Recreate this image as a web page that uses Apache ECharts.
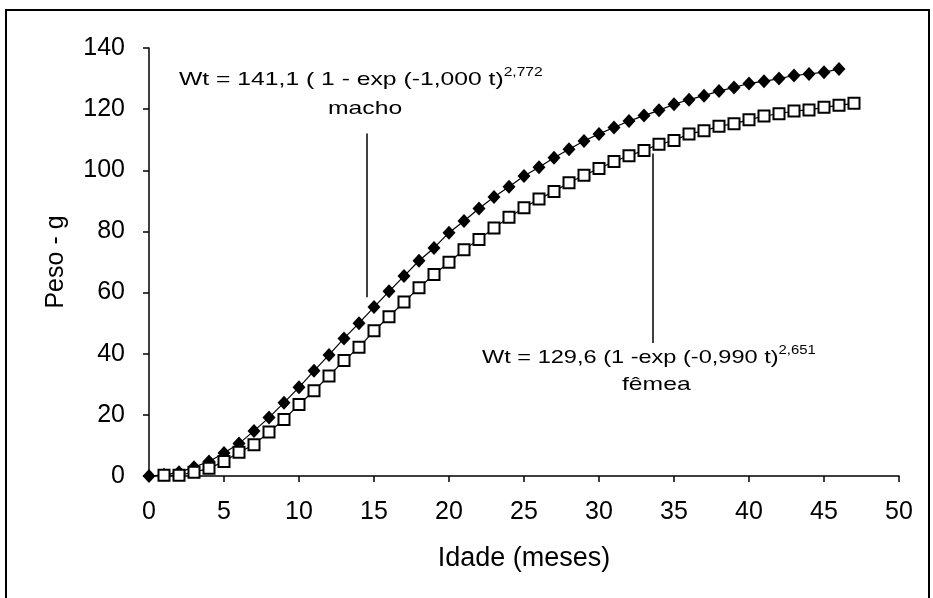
<!DOCTYPE html>
<html>
<head>
<meta charset="utf-8">
<script src="https://cdn.jsdelivr.net/npm/echarts@6/dist/echarts.min.js"></script>
<style>
  html, body { margin: 0; padding: 0; background: #fff; }
  #app { width: 933px; height: 598px; }
</style>
</head>
<body>
<div id="app"></div>
<script>
// idade em meses
var idadeMacho = [0, 1, 2, 3, 4, 5, 6, 7, 8, 9, 10, 11, 12, 13, 14, 15, 16, 17, 18, 19,
  20, 21, 22, 23, 24, 25, 26, 27, 28, 29, 30, 31, 32, 33, 34, 35, 36, 37, 38, 39,
  40, 41, 42, 43, 44, 45, 46];
var pesoMacho = [0, 0.4, 1.2, 2.9, 4.75, 7.5, 10.6, 14.75, 19.1, 24, 29, 34.4, 39.6, 45, 50,
  55.25, 60.4, 65.4, 70.4, 74.6, 79.6, 83.4, 87.5, 91.25, 94.6, 98.1, 101, 104.1, 106.9,
  109.6, 111.9, 114, 116.1, 117.9, 119.6, 121.6, 123.1, 124.4, 125.9, 127.1, 128.4, 129.1,
  130, 131, 131.5, 132.1, 133.1];

var idadeFemea = [1, 2, 3, 4, 5, 6, 7, 8, 9, 10, 11, 12, 13, 14, 15, 16, 17, 18, 19, 20,
  21, 22, 23, 24, 25, 26, 27, 28, 29, 30, 31, 32, 33, 34, 35, 36, 37, 38, 39, 40,
  41, 42, 43, 44, 45, 46, 47];
var pesoFemea = [0.25, 0.25, 1.25, 2.5, 4.75, 7.75, 10.25, 14.4, 18.5, 23.4, 27.9, 32.75,
  37.75, 42.1, 47.5, 52.1, 56.9, 61.6, 65.9, 69.9, 74, 77.4, 81.1, 84.6, 87.75, 90.6, 93.1,
  95.9, 98.4, 100.6, 102.9, 104.75, 106.5, 108.5, 109.75, 111.9, 112.9, 114.4, 115.25,
  116.5, 117.75, 118.5, 119.4, 119.75, 120.6, 121.25, 121.9];

// linhas indicadoras das equações [idade, peso topo, peso base]
var setaMacho = [14.5, 112, 58.5];
var setaFemea = [33.6, 105.5, 43.5];

function pares(xs, ys) {
  return xs.map(function (x, i) { return [x, ys[i]]; });
}

var fonte = "Liberation Sans, Arial, sans-serif";

var chart = echarts.init(document.getElementById("app"));

chart.setOption({
  backgroundColor: "#fff",
  animation: false,
  textStyle: { fontFamily: fonte, color: "#000" },
  grid: { left: 149, right: 34, top: 48, bottom: 122 },
  xAxis: {
    type: "value",
    min: 0,
    max: 50,
    interval: 5,
    name: "Idade (meses)",
    nameLocation: "middle",
    nameGap: 69,
    nameTextStyle: { fontSize: 27, color: "#000", fontFamily: fonte },
    axisLine: { lineStyle: { color: "#000", width: 1.5 } },
    axisTick: { length: 6, lineStyle: { color: "#000", width: 1.5 } },
    axisLabel: { fontSize: 25, color: "#000", margin: 24, fontFamily: fonte },
    splitLine: { show: false }
  },
  yAxis: {
    type: "value",
    min: 0,
    max: 140,
    interval: 20,
    name: "Peso - g",
    nameLocation: "middle",
    nameGap: 80,
    nameTextStyle: { fontSize: 25, color: "#000", fontFamily: fonte },
    axisLine: { show: true, lineStyle: { color: "#000", width: 1.5 } },
    axisTick: { show: true, length: 6, lineStyle: { color: "#000", width: 1.5 } },
    axisLabel: { fontSize: 25, color: "#000", margin: 24, fontFamily: fonte },
    splitLine: { show: false }
  },
  graphic: [
    {
      type: "rect",
      shape: { x: 6, y: 10, width: 923, height: 700 },
      style: { fill: "none", stroke: "#000", lineWidth: 2 },
      silent: true
    },
    {
      type: "text",
      left: 179,
      top: 67,
      scaleX: 1.3,
      style: {
        text: "{a|Wt = 141,1 ( 1 - exp (-1,000 t)}{s|2,772}",
        rich: {
          a: { fontSize: 19, fontFamily: fonte, fill: "#000" },
          s: { fontSize: 12, fontFamily: fonte, fill: "#000", padding: [0, 0, 14, 0] }
        }
      }
    },
    {
      type: "text",
      left: 328,
      top: 99,
      scaleX: 1.3,
      style: { text: "macho", fontSize: 19, fontFamily: fonte, fill: "#000" }
    },
    {
      type: "text",
      left: 482,
      top: 345,
      scaleX: 1.24,
      style: {
        text: "{a|Wt = 129,6 (1 -exp (-0,990 t)}{s|2,651}",
        rich: {
          a: { fontSize: 19, fontFamily: fonte, fill: "#000" },
          s: { fontSize: 12, fontFamily: fonte, fill: "#000", padding: [0, 0, 14, 0] }
        }
      }
    },
    {
      type: "text",
      left: 622,
      top: 375,
      scaleX: 1.3,
      style: { text: "fêmea", fontSize: 19, fontFamily: fonte, fill: "#000" }
    }
  ],
  series: [
    {
      name: "macho",
      type: "line",
      data: pares(idadeMacho, pesoMacho),
      symbol: "diamond",
      symbolSize: [13, 14],
      lineStyle: { color: "#000", width: 1.2 },
      itemStyle: { color: "#000", borderColor: "#000", borderWidth: 0 },
      z: 2,
      markLine: {
        silent: true,
        symbol: "none",
        label: { show: false },
        lineStyle: { color: "#000", width: 1.5, type: "solid" },
        data: [
          [{ coord: [setaMacho[0], setaMacho[1]] }, { coord: [setaMacho[0], setaMacho[2]] }],
          [{ coord: [setaFemea[0], setaFemea[1]] }, { coord: [setaFemea[0], setaFemea[2]] }]
        ]
      }
    },
    {
      name: "fêmea",
      type: "line",
      data: pares(idadeFemea, pesoFemea),
      symbol: "rect",
      symbolSize: 11,
      showAllSymbol: true,
      lineStyle: { color: "#000", width: 1.2 },
      itemStyle: { color: "#fff", borderColor: "#000", borderWidth: 2 },
      z: 3
    }
  ]
});
</script>
</body>
</html>
